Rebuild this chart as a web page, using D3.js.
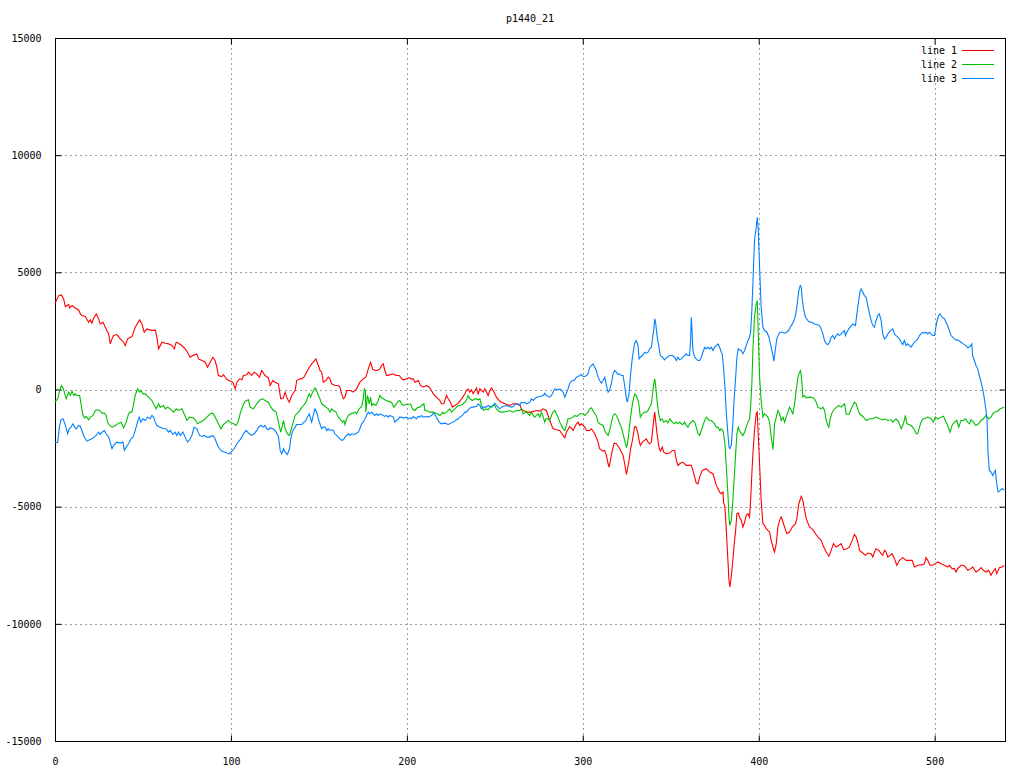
<!DOCTYPE html>
<html><head><meta charset="utf-8">
<script src="https://cdn.jsdelivr.net/npm/d3@7"></script>
<style>
html,body{margin:0;padding:0;background:#fff;}
svg{display:block;}
text{font-family:"DejaVu Sans Mono",monospace;font-size:10px;fill:#000;}
</style></head>
<body>
<svg id="chart" width="1024" height="768"></svg>
<script>
const chartTitle = "p1440_21";
const seriesNames = ["line 1", "line 2", "line 3"];
const seriesColors = ["#ff0000", "#00c000", "#0080ff"];
const xTicks = [0, 100, 200, 300, 400, 500];
const yTicks = [-15000, -10000, -5000, 0, 5000, 10000, 15000];

const line1 = [[0,3680],[2.1,4007],[3.6,4036],[4.9,3865],[5.9,3538],[7.8,3624],[8.3,3481],[9.7,3581],[11.5,3481],[13.4,3396],[14.4,3226],[15.3,3155],[17.2,3112],[19.1,2870],[20.1,2970],[21,2828],[22,3055],[23.5,3226],[24.8,3013],[25.7,2799],[27.3,2870],[28.6,2657],[29.5,2515],[30.5,2373],[31.4,1947],[32.4,2160],[33.3,2302],[35.2,2345],[37.1,2160],[39,2018],[39.9,1876],[41.3,2160],[43.7,2259],[45.6,2657],[48.1,2970],[49.4,2799],[50.7,2444],[52.2,2586],[55.1,2515],[57,2544],[57.9,2231],[58.9,1734],[60.8,2018],[62.7,1975],[64.5,1947],[66.4,1876],[67.8,1734],[68.9,2018],[70.2,1975],[72.1,1876],[74,1734],[75.3,1592],[76.8,1378],[78.4,1449],[80.6,1520],[81.6,1307],[83.5,1236],[85.4,1165],[86.7,952],[88.2,1165],[89.7,1378],[91,1236],[92,952],[92.9,597],[94.8,554],[95.8,639],[97.7,426],[99.6,355],[101.1,313],[102.4,28],[103.4,313],[104.9,455],[106.2,412],[107.1,597],[109,625],[110,739],[111.9,597],[113.2,739],[114.7,668],[116.2,526],[117.5,810],[119.4,597],[121.3,497],[122.3,171],[123.8,384],[125.1,313],[127,242],[128.3,-398],[129.8,-355],[130.8,-114],[132.1,-398],[133.1,-540],[134.6,-256],[136.5,-43],[137.4,384],[139.3,455],[140.2,455],[141.5,526],[143,739],[144.6,952],[145.9,1094],[146.8,1165],[148.3,1307],[149.7,1023],[150.6,810],[151.6,739],[152.5,313],[154,384],[155.3,526],[156.3,455],[157.2,242],[159.1,171],[161,171],[162,99],[162.9,-185],[163.9,-398],[164.8,-327],[165.8,-43],[168,-43],[169.5,-114],[171.4,28],[173.3,313],[175.2,455],[176.7,526],[178.1,881],[179.4,1165],[180.5,881],[181.8,810],[183.2,810],[184.7,881],[185.6,1023],[186.6,1094],[187.5,810],[188.5,597],[190.4,625],[192.3,668],[193.8,597],[195.7,597],[197,455],[198.3,412],[199.8,455],[201.3,497],[202.7,455],[203.6,455],[204.6,313],[206.5,384],[207.8,171],[209.3,99],[211.2,171],[212.7,99],[214,-43],[215,-185],[215.9,-256],[216.9,-327],[218.8,-469],[219.7,-611],[221,-611],[222.5,-256],[223.5,-398],[224.8,-540],[225.8,-753],[227.3,-682],[229.2,-583],[231.1,-398],[233,-185],[233.9,-43],[234.8,28],[235.8,-114],[236.7,-14],[237.7,-185],[239.6,71],[240.5,-185],[241.5,28],[243.4,-114],[244.3,28],[245.3,-114],[246.2,-256],[247.2,-43],[248.1,71],[249,-43],[250,-185],[250.9,-327],[252.5,-469],[253.8,-540],[255.7,-611],[258.5,-682],[260.4,-611],[262.3,-611],[264.2,-639],[265.1,-824],[266.1,-895],[268,-966],[270.8,-966],[273.7,-895],[275.6,-924],[277.5,-824],[279.3,-895],[281.2,-1322],[283.1,-1677],[285,-1719],[286.9,-1748],[288.8,-1961],[289.8,-2060],[290.7,-1819],[292.6,-1577],[294.5,-1748],[296.4,-1464],[297.3,-1393],[298.3,-1535],[299.2,-1464],[301.1,-1606],[302.1,-1748],[303.9,-1748],[304.9,-1677],[306.8,-1890],[308.7,-2245],[309.6,-2529],[311.5,-2629],[312.5,-2600],[313.4,-2814],[314.4,-3169],[314.9,-3311],[315.7,-3027],[316.8,-2600],[317.8,-2288],[319.1,-2316],[321,-2529],[322.9,-2814],[323.8,-3169],[324.8,-3624],[325.3,-3453],[326.3,-3027],[327.2,-2529],[328.2,-2174],[329.5,-1577],[330.4,-1606],[331.4,-1890],[332,-2174],[332.7,-2387],[333.9,-2245],[336.1,-2103],[337.1,-2245],[338,-2316],[339,-2245],[339.9,-1606],[340.5,-1179],[340.9,-966],[341.4,-1322],[342.2,-1890],[343.3,-2458],[344.1,-2629],[345.2,-2458],[346,-2671],[347.5,-2743],[349.4,-2714],[350.9,-2600],[352.2,-2600],[353.2,-3027],[354.1,-3240],[355.1,-3169],[356.9,-3098],[358.8,-3240],[361.7,-3240],[362.6,-3453],[363.6,-3737],[364.5,-3993],[365.5,-4021],[366.4,-3737],[367.9,-3453],[370.2,-3382],[372.1,-3524],[374,-3595],[375.9,-4092],[377.8,-4377],[378.7,-4448],[379.7,-4377],[380,-4803],[380.8,-5016],[381.6,-6011],[382.5,-7290],[383.1,-8142],[383.6,-8427],[384.4,-8000],[385.3,-7290],[386.1,-6579],[386.9,-6011],[387.6,-5300],[388.4,-5272],[389.1,-5442],[390.1,-5585],[391,-5869],[392,-5656],[392.9,-5371],[393.9,-5300],[394.8,-5442],[395.4,-4732],[396.1,-3595],[396.7,-2743],[397.6,-1748],[398.6,-1037],[399.2,-966],[399.7,-1890],[400.5,-3169],[401.4,-4732],[402.4,-5727],[403.3,-5798],[404.3,-5940],[405.2,-6011],[406.2,-6082],[407.1,-6437],[408.1,-6721],[409,-6934],[410,-6579],[410.9,-5869],[411.9,-5585],[412.8,-5442],[413.8,-5656],[414.7,-5869],[416,-6153],[417.5,-6082],[419.1,-5869],[420.9,-5727],[421.7,-5513],[422.8,-4874],[424.2,-4561],[425.1,-4732],[426.1,-5158],[427,-5513],[428.9,-5869],[430.8,-5982],[432.3,-6153],[433.6,-6295],[435.5,-6437],[436.5,-6650],[438.4,-6934],[439.9,-7119],[441.2,-6863],[442.5,-6579],[444,-6721],[445.5,-6650],[446.9,-6579],[448.2,-6835],[450.1,-6792],[451.6,-6721],[453.1,-6437],[454.4,-6181],[455.4,-6295],[456.3,-6508],[457.3,-6863],[459.2,-6977],[460.7,-7077],[462,-6977],[463.9,-7006],[464.9,-7148],[465.8,-6934],[466.7,-6792],[468.3,-6863],[469.6,-7006],[470.5,-7077],[471.5,-6863],[472.4,-6934],[473.4,-7148],[474.7,-7077],[475.8,-7006],[477.2,-7219],[478.5,-7503],[480,-7290],[481.9,-7176],[483.8,-7290],[485.7,-7290],[487.2,-7290],[488.5,-7574],[490.4,-7503],[493.3,-7474],[494.2,-7432],[495.1,-7176],[496.1,-7290],[497.4,-7503],[498.9,-7503],[500.4,-7432],[501.8,-7361],[503.7,-7432],[505.6,-7503],[507.4,-7574],[508.4,-7503],[509.9,-7645],[511.2,-7645],[512.2,-7787],[513.1,-7645],[515,-7503],[516.3,-7503],[517.5,-7574],[518.8,-7716],[520.7,-7645],[521.6,-7574],[523.5,-7787],[525,-7716],[526.4,-7603],[527.7,-7716],[529.2,-7787],[530.7,-7716],[532.1,-7929],[533,-7787],[534.5,-7645],[535.3,-7858],[536.8,-7603],[538.3,-7574],[539.6,-7503]];

const line2 = [[0,-540],[1.5,-398],[2.7,-43],[3.6,171],[4.5,71],[5.3,-114],[6.4,-398],[7.8,-114],[8.7,-256],[9.7,-71],[10.6,-256],[11.5,-185],[12.5,-256],[14,-256],[14.8,-611],[15.7,-1037],[16.7,-1208],[17.8,-1151],[19.1,-1293],[20.1,-1179],[21.6,-1108],[22.9,-895],[23.9,-867],[25.4,-895],[26.7,-1009],[28,-1009],[29.1,-1108],[29.9,-1393],[31,-1535],[32.4,-1606],[34.3,-1535],[36.2,-1435],[37.5,-1393],[39,-1634],[40.5,-1393],[41.8,-1037],[42.8,-966],[43.7,-966],[44.7,-611],[45.6,-256],[46.6,-43],[47.1,28],[48.1,-114],[48.8,-43],[50,-185],[51.3,-185],[53.2,-327],[55.1,-469],[56,-611],[57.5,-824],[58.9,-611],[59.8,-753],[61.7,-682],[62.7,-824],[64,-753],[65.5,-824],[67.4,-966],[68.9,-824],[70.2,-895],[72.1,-824],[73.4,-1037],[75,-1322],[76.5,-1179],[78.4,-1208],[79.7,-1293],[81,-1464],[82.5,-1393],[84.4,-1322],[86.3,-1179],[88.2,-1037],[89.7,-1009],[91,-1179],[92,-1322],[92.9,-1464],[94.3,-1677],[95.8,-1492],[97.3,-1393],[98.6,-1322],[99.6,-1393],[101.5,-1464],[103,-1535],[104.3,-1322],[105.2,-1037],[106.8,-682],[108.1,-497],[110,-441],[110.9,-753],[112.8,-824],[114.7,-611],[116.6,-441],[118.1,-398],[119.4,-469],[121.3,-540],[122.7,-753],[123.8,-867],[125.7,-966],[126.4,-1179],[127.6,-1606],[128.3,-1819],[129.9,-1322],[130.8,-1677],[132.1,-1890],[133.3,-1961],[134.6,-1606],[136.5,-1108],[137.4,-1037],[139.3,-895],[139.6,-824],[141.2,-682],[142.7,-540],[144,-256],[144.6,-185],[145.3,-327],[146.4,-114],[147.8,71],[148.7,-43],[149.7,-256],[150.6,-398],[151.6,-611],[152.9,-682],[154,-753],[155.3,-824],[156.3,-966],[157.2,-824],[158.2,-895],[159.7,-966],[161,-1179],[162,-1250],[163.3,-1393],[164.2,-1322],[164.8,-1492],[165.8,-1250],[166.7,-1108],[168,-1037],[169.5,-1009],[170.5,-966],[171.4,-1037],[172.9,-824],[174.3,-725],[175.2,-398],[175.8,28],[176.4,-43],[176.7,-966],[177.1,-682],[177.5,-256],[178.1,-398],[178.6,-611],[179.4,-327],[180,-682],[180.9,-611],[182.4,-682],[183.7,-469],[184.7,-256],[185.6,-355],[186.6,-398],[188.1,-469],[189.4,-497],[191.3,-540],[192.6,-753],[194.1,-611],[195.1,-497],[196,-469],[197,-611],[197.9,-682],[199.5,-639],[200.8,-639],[202.1,-611],[203.2,-824],[204.6,-895],[205.9,-782],[207.4,-753],[208.3,-682],[209.7,-611],[210.2,-895],[211.2,-895],[213.1,-966],[215,-966],[216.5,-1009],[217.2,-1037],[218.8,-1108],[219.7,-1037],[220.3,-966],[221,-1037],[222.5,-966],[223.5,-895],[224.4,-824],[225.4,-966],[226.3,-895],[227.3,-824],[228.2,-753],[229.2,-682],[230.1,-682],[231.6,-639],[233,-540],[233.9,-441],[234.8,-256],[235.8,-398],[237.3,-469],[238.6,-398],[239.6,-398],[240.5,-441],[241.5,-398],[242.4,-682],[243.7,-895],[244.9,-824],[246.2,-867],[247.5,-753],[248.7,-682],[250,-682],[250.9,-824],[251.9,-895],[253.2,-966],[254.7,-966],[256.6,-938],[258.5,-895],[260.4,-966],[262.3,-895],[264.2,-895],[265.1,-824],[266.1,-1037],[267,-1009],[268,-924],[268.9,-1037],[269.9,-1108],[270.8,-966],[271.8,-1108],[272.7,-1179],[273.7,-1108],[274.6,-1037],[275.6,-1179],[276.5,-966],[277.5,-1179],[278.4,-1393],[279,-1250],[280.3,-1250],[281.2,-1322],[282.2,-1108],[283.1,-966],[284.1,-895],[285,-1037],[286,-1179],[286.9,-1393],[287.9,-1535],[288.8,-1677],[289.8,-1748],[290.7,-1535],[291.6,-1250],[292.6,-1250],[294.5,-1179],[295.4,-1108],[296.4,-1151],[297.3,-1108],[298.3,-1037],[300.2,-1037],[301.1,-1108],[302.1,-1037],[303,-966],[303.9,-824],[304.9,-782],[305.8,-895],[306.8,-1037],[307.7,-1108],[308.7,-1393],[309.6,-1464],[311.5,-1535],[312.5,-1748],[313.4,-1890],[314.4,-1961],[315.3,-1748],[316.3,-1393],[317.2,-1108],[318.1,-1037],[319.1,-1108],[320,-1250],[321,-1464],[321.9,-1606],[322.9,-1890],[323.8,-2174],[324.8,-2458],[325.3,-2387],[326.3,-1748],[327.2,-1179],[328.2,-611],[329.5,-185],[330.4,-256],[331.4,-469],[332,-682],[332.7,-1179],[333.9,-1037],[335.2,-966],[336.1,-966],[337.1,-895],[338,-753],[339,-611],[339.9,-43],[340.5,313],[340.9,455],[341.4,171],[342.2,-469],[343.3,-1108],[344.1,-1322],[345.2,-1250],[346,-1393],[347.5,-1322],[348.4,-1435],[349.4,-1250],[350.9,-1393],[352.2,-1464],[353.2,-1393],[354.1,-1464],[355.1,-1393],[356,-1464],[356.9,-1492],[357.9,-1393],[358.8,-1535],[359.8,-1606],[360.7,-1464],[361.7,-1393],[362.6,-1322],[363.6,-1393],[364.5,-1606],[365.5,-1890],[366.4,-1961],[367.4,-1748],[368.3,-1535],[369.3,-1322],[370.2,-1179],[371.1,-1250],[372.1,-1322],[373,-1322],[374,-1393],[374.9,-1464],[375.9,-1606],[376.8,-1606],[377.8,-1748],[378.7,-1677],[379.7,-1748],[380,-1890],[380.8,-2316],[381.6,-3311],[382.5,-4448],[383.1,-5442],[383.6,-5798],[384.4,-5585],[385.3,-4732],[386.1,-3737],[386.9,-2743],[387.6,-1890],[388.4,-1606],[389.1,-1748],[390.1,-1890],[391,-1961],[392,-1819],[392.9,-1606],[393.9,-1393],[394.8,-1250],[395.4,-753],[396.1,242],[396.7,1663],[397.6,3084],[398.6,3653],[399.2,3794],[399.7,2515],[400.5,526],[401.4,-469],[402.4,-1179],[403.3,-1037],[404.3,-1108],[405.2,-1179],[406.2,-1393],[407.1,-2032],[407.7,-2316],[408.1,-2572],[408.5,-2174],[409,-1464],[410,-1179],[410.9,-895],[411.9,-1037],[412.8,-1322],[413.8,-1179],[414.7,-1393],[415.6,-1179],[416.6,-966],[417.5,-753],[418.5,-895],[419.4,-1037],[420.4,-611],[421.3,-43],[422.3,526],[423.2,739],[423.8,810],[424.5,384],[425.1,-327],[426.1,-256],[427,-355],[428.9,-327],[430.8,-355],[431.7,-398],[432.7,-540],[433.6,-753],[435.5,-824],[436.5,-753],[437.4,-895],[438.4,-1322],[439.3,-1535],[439.9,-1606],[440.6,-1250],[441.8,-966],[443.1,-824],[444.4,-753],[445.5,-682],[446.9,-753],[447.8,-682],[448.8,-611],[449.7,-1037],[450.7,-1066],[451.6,-1037],[452.6,-824],[453.5,-682],[454.4,-540],[455.4,-611],[456.3,-824],[457.3,-1037],[459.2,-1151],[461.1,-1322],[463,-1250],[464.9,-1250],[466.7,-1179],[468.6,-1250],[470.5,-1293],[471.5,-1250],[473.4,-1322],[475.3,-1293],[476.2,-1393],[478.1,-1250],[479.6,-1393],[481,-1677],[482.3,-1464],[483.4,-1108],[484.2,-1464],[485.7,-1492],[487.2,-1577],[488.5,-1719],[489.5,-1890],[490.4,-1890],[491.4,-1606],[492.3,-1393],[493.3,-1250],[494.2,-1250],[496.1,-1179],[498,-1250],[499.3,-1393],[500.4,-1179],[501.8,-1250],[503.7,-1179],[505,-1137],[506.1,-1322],[507.4,-1535],[508.8,-1819],[509.9,-1535],[511.2,-1393],[512.6,-1322],[513.7,-1606],[515,-1322],[516.3,-1322],[517.5,-1250],[518.8,-1393],[519.8,-1464],[520.7,-1293],[522,-1393],[523.5,-1535],[525,-1464],[526.4,-1322],[527.7,-1250],[529.2,-1108],[530.7,-1250],[532.1,-1179],[533,-1037],[534,-966],[535.8,-924],[537.2,-824],[538.7,-782],[539.6,-753]];

const line3 = [[0,-2259],[1.5,-2259],[2.5,-1606],[3.4,-1293],[4.5,-1250],[5.3,-1393],[6.2,-1606],[7.2,-1890],[8.1,-1677],[9.1,-1606],[10.2,-1464],[11.2,-1606],[12.1,-1677],[13.4,-1535],[14.4,-1577],[15.3,-1748],[16.3,-1961],[17.2,-2103],[18.2,-2203],[19.7,-2146],[21,-2103],[22.3,-2032],[23.9,-1918],[24.8,-1819],[25.7,-1918],[26.7,-1819],[28,-1748],[29.1,-1890],[30.5,-2032],[31.4,-2245],[32.4,-2529],[33.3,-2387],[35.2,-2245],[37.1,-2288],[38.6,-2245],[39.4,-2600],[40.5,-2458],[41.8,-2316],[43.2,-2103],[44.3,-2032],[45.6,-1748],[46.9,-1393],[47.9,-1179],[48.8,-1393],[50,-1250],[51.3,-1322],[52.6,-1179],[54.1,-1250],[55.1,-1108],[56,-1179],[57,-1393],[57.9,-1535],[59.8,-1606],[61.7,-1677],[63.2,-1677],[64.5,-1819],[65.5,-1748],[67,-1918],[68.3,-1819],[69.3,-1961],[70.2,-1819],[71.2,-1961],[72.7,-1819],[74,-2032],[75.3,-2245],[76.5,-2146],[77.8,-1961],[79.1,-1606],[80.6,-1677],[82.2,-1961],[83.5,-2004],[84.8,-1961],[86.3,-2032],[87.8,-2032],[89.7,-1961],[91,-2103],[92,-2316],[93.5,-2529],[94.8,-2629],[96.2,-2671],[97.7,-2714],[99.2,-2743],[100.5,-2629],[101.8,-2529],[103.4,-2316],[104.9,-2174],[106.2,-2032],[107.1,-1890],[108.7,-1748],[110,-1862],[110.9,-1918],[111.9,-1961],[113.2,-1890],[114.7,-1748],[115.7,-1606],[117,-1535],[118.5,-1606],[119.4,-1535],[120.4,-1677],[121.3,-1719],[122.3,-1634],[123.2,-1677],[124.2,-1677],[125.7,-1819],[127,-2004],[128,-2600],[128.9,-2743],[129.9,-2529],[130.8,-2671],[132.1,-2771],[133.3,-2529],[134,-2103],[135.2,-1748],[136.5,-1606],[137.4,-1492],[139.3,-1492],[140.2,-1492],[141.5,-1393],[142.7,-1322],[143.4,-1179],[144.6,-1037],[145.3,-1250],[145.9,-1393],[146.8,-1108],[147.8,-824],[148.7,-966],[149.7,-1250],[150.6,-1464],[151.6,-1677],[152.5,-1606],[153.5,-1606],[154.4,-1748],[155.3,-1677],[156.3,-1748],[157.2,-1719],[158.2,-1748],[159.1,-1890],[160.1,-1961],[161,-2032],[162,-2103],[162.9,-2174],[163.9,-2146],[164.8,-2032],[165.8,-1961],[166.7,-1890],[167.7,-1961],[168.6,-1890],[169.9,-1918],[171.1,-1890],[172.4,-1819],[173.3,-1677],[174.3,-1464],[175.2,-1393],[176.2,-1250],[177.1,-1108],[178.1,-966],[179,-1037],[180,-966],[180.9,-1037],[181.8,-1108],[182.8,-1037],[183.7,-1108],[184.7,-1037],[185.6,-1066],[186.6,-1108],[187.5,-1151],[188.5,-1108],[189.4,-1179],[190.4,-1108],[192.3,-1179],[193.2,-1393],[194.1,-1322],[195.1,-1250],[196,-1179],[197,-1179],[198.3,-1222],[199.8,-1179],[200.8,-1250],[201.7,-1208],[202.7,-1250],[203.6,-1151],[204.6,-1208],[205.5,-1250],[206.5,-1151],[207.4,-1179],[208.3,-1108],[209.3,-1179],[211.2,-1151],[212.1,-1179],[214,-1108],[215.3,-1009],[216.3,-1108],[217.2,-1250],[218.4,-1393],[219.7,-1464],[221.6,-1435],[223.5,-1492],[224.4,-1464],[226,-1393],[227.3,-1350],[228.2,-1293],[229.2,-1250],[230.1,-1179],[231.6,-1108],[233,-966],[233.9,-966],[235.4,-824],[236.7,-753],[237.7,-753],[239.6,-725],[240.5,-611],[241.5,-682],[242.4,-824],[243.4,-753],[244.9,-753],[246.2,-682],[247.2,-725],[248.1,-753],[249,-682],[250,-583],[250.9,-682],[251.9,-753],[252.8,-824],[253.8,-753],[254.7,-725],[256.6,-682],[258.1,-725],[259.5,-753],[260.4,-725],[261.4,-639],[262.7,-611],[263.8,-682],[265.1,-540],[266.1,-583],[267,-540],[268,-611],[268.9,-583],[269.9,-540],[270.8,-398],[271.8,-469],[272.7,-398],[273.7,-327],[275.6,-298],[277.5,-256],[278.4,-156],[279.3,-256],[281.2,-327],[282.2,-256],[283.1,-114],[284.1,28],[286,-14],[286.9,28],[287.9,-14],[288.8,-114],[289.8,-327],[290.7,-156],[291.6,28],[292.6,270],[293.5,355],[294.5,384],[295.4,412],[296.4,526],[297.3,554],[298.3,597],[299.2,639],[300.2,554],[301.1,554],[302.1,597],[303,668],[303.9,952],[304.9,1023],[305.8,1094],[306.8,952],[307.7,810],[308.7,526],[309.6,384],[310.6,270],[311.5,384],[312.5,526],[313.4,171],[314.4,-114],[315.3,-14],[316.3,270],[317.2,668],[318.1,810],[319.1,739],[320,639],[321,668],[321.9,597],[322.9,597],[323.8,171],[324.8,-398],[325.3,-540],[326.3,-185],[327.2,668],[328.2,1378],[329.5,1975],[330.4,2089],[331.4,1876],[332,1307],[332.7,1378],[333.9,1449],[335.2,1592],[336.1,1549],[337.1,1592],[338,1734],[339,1805],[339.9,2302],[340.5,2657],[340.9,3013],[341.4,2870],[342.2,2302],[343.3,1805],[344.1,1449],[345.2,1378],[346.5,1265],[347.5,1350],[349.4,1449],[350.9,1449],[352.2,1378],[353.2,1236],[354.1,1378],[355.1,1265],[356,1307],[356.9,1378],[357.9,1449],[358.8,1520],[359.8,1449],[360.7,1449],[361.3,2089],[361.7,3084],[362.1,2515],[362.6,1663],[363.6,1378],[364.5,1307],[365.5,1236],[366.4,1236],[367.4,1378],[368.3,1592],[369.3,1805],[370.2,1734],[371.1,1805],[372.1,1734],[373,1805],[374,1663],[374.9,1805],[375.9,1876],[376.8,1947],[377.8,1805],[378.7,1592],[379.3,1520],[380,952],[380.8,99],[381.6,-1037],[382.5,-1890],[383.1,-2458],[383.6,-2529],[384.4,-2387],[385.3,-1464],[386.1,-327],[386.9,526],[387.6,1378],[388.4,1734],[389.1,1691],[390.1,1663],[391,1520],[392,1663],[392.9,1876],[393.9,2089],[394.8,2231],[395.4,2444],[396.1,3368],[396.7,4505],[397.6,6352],[398.6,6920],[399.2,7347],[399.7,6920],[400.5,5215],[401.4,3510],[402.4,2657],[403.3,2515],[404.7,2444],[405.8,2231],[407.1,1805],[408.1,1450],[408.6,1208],[409.4,1663],[410.3,2160],[411.5,2373],[412.2,2444],[413.4,2444],[414.7,2402],[416,2444],[417.2,2544],[417.9,2657],[419.1,2799],[420,2941],[420.9,3155],[421.9,3652],[422.8,4220],[423.6,4434],[424.2,4362],[424.7,3865],[425.5,3439],[426.6,3084],[428,2941],[428.9,2870],[430.4,2870],[431.7,2799],[433.1,2771],[434.6,2728],[435.5,2586],[436.5,2373],[437.4,2089],[438.4,1947],[439.3,1918],[440.3,2018],[441.2,2231],[442.1,2302],[443.1,2160],[444,2302],[445,2373],[445.9,2302],[446.9,2373],[447.8,2444],[448.8,2515],[449.3,2302],[450.1,2444],[451.2,2586],[452.6,2728],[453.5,2799],[455,2728],[455.8,3226],[456.7,3723],[457.7,4220],[458.2,4291],[459.2,4149],[460.1,4007],[461.1,3936],[462,3581],[463,3226],[463.9,2941],[464.9,2728],[465.8,2657],[466.4,2870],[467.7,3155],[468.6,3226],[469.6,2941],[470.5,2373],[471.5,2160],[472.4,2231],[473.4,2373],[474.3,2444],[475.3,2544],[476.2,2586],[477.2,2373],[478.1,2302],[479.1,2231],[480,2160],[481,2018],[481.9,1918],[482.8,2089],[483.8,1876],[484.7,1947],[485.7,1876],[486.6,1805],[487.6,1918],[488.5,2018],[489.5,2089],[490.4,2160],[491.4,2302],[492.3,2373],[493.3,2444],[494.2,2402],[495.1,2444],[496.1,2373],[497,2444],[498,2373],[498.9,2302],[499.9,2302],[500.4,2515],[501.2,2870],[502.3,3155],[503.1,3226],[504.2,3084],[505.6,3013],[506.5,2870],[507.4,2728],[508.4,2515],[509.3,2302],[510.3,2231],[511.2,2160],[512.2,2117],[513.7,2089],[515,2018],[516.3,1947],[517.9,1876],[518.8,1776],[520.1,1833],[521.1,1947],[521.6,1449],[522.6,1236],[523.5,1023],[524.5,881],[525.4,597],[526.4,313],[527.3,28],[528.3,-398],[529.2,-895],[529.8,-1322],[530.4,-2743],[531.1,-3453],[532.1,-3524],[533,-3666],[534,-3524],[534.5,-3453],[535.3,-4021],[536.1,-4377],[537.2,-4306],[538.3,-4235],[539.6,-4277]];

const allSeries = [line1, line2, line3];

const svg = d3.select("#chart");
const margin = {left: 55, right: 1005, top: 38, bottom: 741};
const x = d3.scaleLinear().domain([0, 540]).range([margin.left, margin.right]);
const y = d3.scaleLinear().domain([-15000, 15000]).range([margin.bottom, margin.top]);

// grid
const grid = svg.append("g").attr("stroke", "#a0a0a0").attr("stroke-width", 1).attr("stroke-dasharray", "2,3");
xTicks.filter(t => t > 0 && t < 540).forEach(t => {
  grid.append("line").attr("x1", Math.round(x(t)) + 0.5).attr("x2", Math.round(x(t)) + 0.5)
    .attr("y1", margin.top).attr("y2", margin.bottom);
});
yTicks.filter(t => t > -15000 && t < 15000).forEach(t => {
  grid.append("line").attr("y1", Math.round(y(t)) + 0.5).attr("y2", Math.round(y(t)) + 0.5)
    .attr("x1", margin.left).attr("x2", margin.right);
});

// axes with inward ticks (mirrored)
const tl = 6;
const axB = svg.append("g").attr("transform", `translate(0,${margin.bottom + 0.5})`)
  .call(d3.axisBottom(x).tickValues(xTicks).tickSizeInner(-tl).tickSizeOuter(0).tickPadding(10 + tl));
const axT = svg.append("g").attr("transform", `translate(0,${margin.top + 0.5})`)
  .call(d3.axisTop(x).tickValues(xTicks).tickSizeInner(-tl).tickSizeOuter(0).tickFormat(""));
const axL = svg.append("g").attr("transform", `translate(${margin.left + 0.5},0)`)
  .call(d3.axisLeft(y).tickValues(yTicks).tickSizeInner(-tl).tickSizeOuter(0).tickPadding(8 + tl).tickFormat(d3.format("d")));
const axR = svg.append("g").attr("transform", `translate(${margin.right + 0.5},0)`)
  .call(d3.axisRight(y).tickValues(yTicks).tickSizeInner(-tl).tickSizeOuter(0).tickFormat(""));
[axB, axT, axL, axR].forEach(a => {
  a.select(".domain").remove();
  a.selectAll("line").attr("stroke", "#000");
  a.selectAll("text").attr("font-family", "DejaVu Sans Mono, monospace").attr("font-size", 10);
});
axL.selectAll("text").text(d => d < 0 ? "-" + Math.abs(d) : d);

// border
svg.append("rect").attr("x", margin.left + 0.5).attr("y", margin.top + 0.5)
  .attr("width", margin.right - margin.left).attr("height", margin.bottom - margin.top)
  .attr("fill", "none").attr("stroke", "#000").attr("stroke-width", 1);

// lines
const lineGen = d3.line().x(d => x(d[0])).y(d => y(d[1]));
allSeries.forEach((s, i) => {
  svg.append("path").datum(s).attr("d", lineGen)
    .attr("fill", "none").attr("stroke", seriesColors[i]).attr("stroke-width", 1.1)
    .attr("stroke-linejoin", "miter");
});

// title
svg.append("text").attr("x", (margin.left + margin.right) / 2).attr("y", 22)
  .attr("text-anchor", "middle").text(chartTitle);

// legend
const leg = svg.append("g");
seriesNames.forEach((n, i) => {
  const yy = 50 + i * 14;
  leg.append("text").attr("x", 957).attr("y", yy).attr("dy", "0.35em").attr("text-anchor", "end").text(n);
  leg.append("line").attr("x1", 962).attr("x2", 994).attr("y1", yy + 0.5).attr("y2", yy + 0.5)
    .attr("stroke", seriesColors[i]).attr("stroke-width", 1);
});
</script>
</body></html>
